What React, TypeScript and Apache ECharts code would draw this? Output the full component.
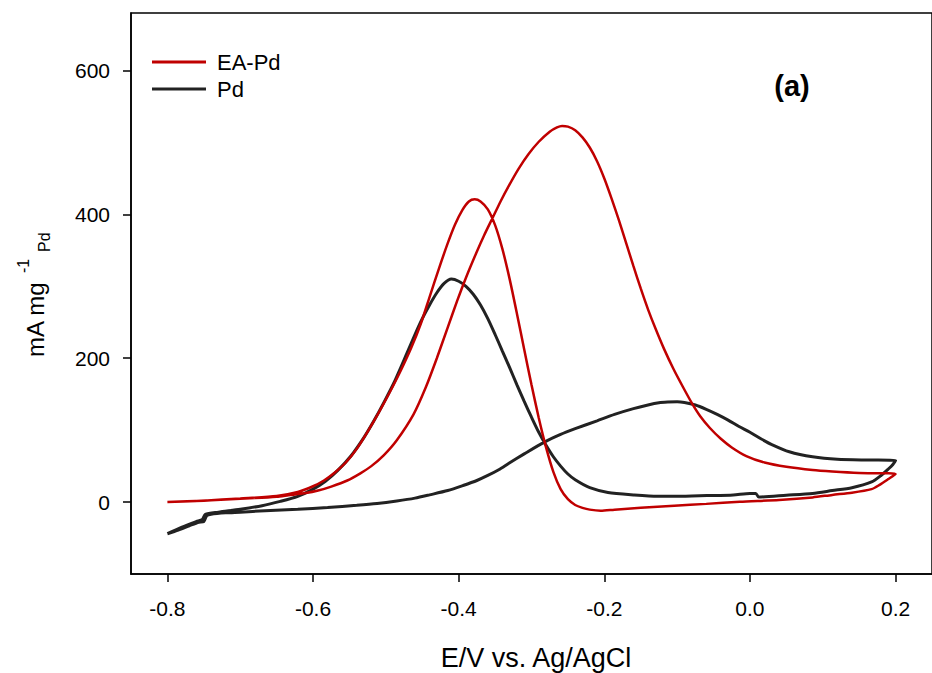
import React, { useEffect, useRef } from "react";
import * as echarts from "echarts";

// E (V vs. Ag/AgCl), current density (mA mg^-1 Pd)
const eaPdForward: [number, number][] = [
  [-0.8, 0], [-0.76, 1.5], [-0.72, 3.5], [-0.68, 5.5], [-0.65, 7.5], [-0.634, 9.5], [-0.61, 12.5],
  [-0.593, 16], [-0.575, 21.5], [-0.553, 30], [-0.535, 40], [-0.52, 50], [-0.503, 65], [-0.485, 86],
  [-0.462, 122], [-0.445, 160], [-0.43, 200], [-0.415, 243], [-0.402, 280], [-0.39, 312], [-0.376, 346],
  [-0.365, 371], [-0.353, 396], [-0.342, 419], [-0.331, 440], [-0.318, 463], [-0.304, 484], [-0.29, 501],
  [-0.275, 515], [-0.265, 521], [-0.258, 523], [-0.25, 522], [-0.24, 517], [-0.23, 507], [-0.22, 493],
  [-0.21, 474], [-0.2, 450], [-0.19, 422], [-0.18, 392], [-0.17, 360], [-0.16, 328], [-0.15, 297],
  [-0.14, 268], [-0.13, 242], [-0.118, 213], [-0.105, 185], [-0.092, 160], [-0.08, 138], [-0.068, 119],
  [-0.055, 103], [-0.04, 88], [-0.025, 76], [-0.005, 64], [0.02, 55], [0.05, 49], [0.086, 44.5],
  [0.113, 42.5], [0.15, 40.5], [0.2, 39],
];
const eaPdReverse: [number, number][] = [
  [0.2, 39], [0.19, 32], [0.178, 24], [0.167, 18], [0.14, 13], [0.113, 10], [0.086, 6.5], [0.04, 3],
  [-0.014, 0.5], [-0.06, -2.5], [-0.104, -5], [-0.15, -8], [-0.186, -10.5], [-0.205, -12], [-0.22, -10.5],
  [-0.23, -8], [-0.24, -4], [-0.25, 4], [-0.26, 18], [-0.27, 42], [-0.28, 76], [-0.29, 117],
  [-0.3, 163], [-0.31, 212], [-0.32, 262], [-0.33, 310], [-0.34, 352], [-0.35, 385], [-0.36, 407],
  [-0.37, 418], [-0.378, 421], [-0.386, 418], [-0.395, 406], [-0.405, 386], [-0.415, 360], [-0.427, 325],
  [-0.44, 285], [-0.452, 248], [-0.465, 215], [-0.48, 182], [-0.495, 152], [-0.51, 124], [-0.525, 98],
  [-0.54, 74], [-0.555, 55], [-0.57, 41], [-0.585, 30], [-0.6, 22], [-0.621, 14], [-0.65, 8.5],
  [-0.7, 5], [-0.75, 2], [-0.8, 0],
];
const pdForward: [number, number][] = [
  [-0.8, -44], [-0.785, -39], [-0.77, -33], [-0.757, -28], [-0.75, -27], [-0.746, -19], [-0.74, -17],
  [-0.72, -15], [-0.7, -14], [-0.666, -12], [-0.621, -10], [-0.58, -7.5], [-0.54, -4.5], [-0.512, -2],
  [-0.485, 1.5], [-0.46, 5.5], [-0.44, 10], [-0.415, 16], [-0.394, 23], [-0.375, 30], [-0.36, 37],
  [-0.345, 45], [-0.331, 54], [-0.31, 67], [-0.283, 83], [-0.26, 94], [-0.24, 102], [-0.21, 113],
  [-0.186, 122], [-0.16, 130], [-0.14, 135], [-0.125, 138], [-0.113, 139], [-0.1, 139.5], [-0.09, 138.5],
  [-0.075, 135], [-0.06, 129], [-0.045, 122], [-0.03, 114], [-0.015, 105], [0.0, 97], [0.015, 88],
  [0.03, 80], [0.054, 70], [0.086, 63], [0.12, 59.5], [0.16, 58.5], [0.2, 58],
];
const pdReverse: [number, number][] = [
  [0.2, 58], [0.196, 52], [0.19, 46], [0.18, 37], [0.167, 28], [0.14, 20], [0.113, 16], [0.086, 12],
  [0.05, 9.5], [0.012, 7], [0.008, 12], [0.0, 12], [-0.023, 10], [-0.059, 9], [-0.1, 8], [-0.127, 8],
  [-0.16, 10], [-0.195, 13.4], [-0.22, 20], [-0.24, 31], [-0.25, 39], [-0.26, 50], [-0.27, 63],
  [-0.28, 79], [-0.29, 97], [-0.3, 118], [-0.31, 140], [-0.32, 163], [-0.33, 187], [-0.34, 210],
  [-0.35, 233], [-0.36, 255], [-0.37, 274], [-0.38, 289], [-0.39, 300], [-0.4, 307], [-0.41, 310],
  [-0.42, 304], [-0.43, 291], [-0.44, 274], [-0.45, 255], [-0.46, 233], [-0.471, 207], [-0.487, 170],
  [-0.503, 138], [-0.517, 112], [-0.53, 90], [-0.548, 64], [-0.566, 44], [-0.583, 29], [-0.6, 18],
  [-0.621, 8], [-0.645, 1], [-0.67, -5], [-0.7, -10], [-0.73, -14], [-0.748, -17], [-0.752, -24],
  [-0.76, -27], [-0.78, -35], [-0.8, -44],
];

const xTicks = [-0.8, -0.6, -0.4, -0.2, 0.0, 0.2];
const yTicks = [0, 200, 400, 600];
const seriesNames = ["EA-Pd", "Pd"];
const xTitle = "E/V vs. Ag/AgCl";
const panelLabel = "(a)";

const FONT = "'Liberation Sans', Arial, Helvetica, sans-serif";

export default function App() {
  const ref = useRef<HTMLDivElement>(null);
  useEffect(() => {
    if (!ref.current) return;
    const chart = echarts.init(ref.current, null, { renderer: "svg" });
    chart.setOption({
      animation: false,
      backgroundColor: "#fff",
      grid: {
        left: 131, top: 13, width: 809.6, height: 561,
        show: true, borderColor: "#000", borderWidth: 1.5, backgroundColor: "transparent",
      },
      legend: {
        data: seriesNames,
        orient: "vertical",
        left: 147, top: 46,
        itemWidth: 54, itemHeight: 3, itemGap: 5,
        icon: "rect",
        textStyle: { fontFamily: FONT, fontSize: 22, color: "#000", padding: [0, 0, 0, 6], lineHeight: 22 },
      },
      xAxis: {
        type: "value", min: -0.85, max: 0.25,
        axisLine: { show: true, onZero: false, lineStyle: { color: "#000", width: 1.5 } },
        axisTick: { show: true, customValues: xTicks, length: 8, inside: false, lineStyle: { color: "#000", width: 1.5 } },
        axisLabel: {
          customValues: xTicks, margin: 24, fontFamily: FONT, fontSize: 21, color: "#000",
          formatter: (v: number) => v.toFixed(1),
        },
        splitLine: { show: false },
      },
      yAxis: {
        type: "value", min: -100, max: 680,
        axisLine: { show: true, onZero: false, lineStyle: { color: "#000", width: 1.5 } },
        axisTick: { show: true, customValues: yTicks, length: 8, inside: false, lineStyle: { color: "#000", width: 1.5 } },
        axisLabel: { customValues: yTicks, margin: 21, fontFamily: FONT, fontSize: 21, color: "#000" },
        splitLine: { show: false },
      },
      series: [
        {
          name: "Pd", type: "line", data: pdForward.concat(pdReverse), showSymbol: false, smooth: 0.25,
          lineStyle: { color: "#222222", width: 3 }, itemStyle: { color: "#222222" }, z: 2,
        },
        {
          name: "EA-Pd", type: "line", data: eaPdForward.concat(eaPdReverse), showSymbol: false, smooth: 0.25,
          lineStyle: { color: "#C00000", width: 2.5 }, itemStyle: { color: "#C00000" }, z: 3,
        },
      ],
      graphic: [
        {
          type: "text", x: 792, y: 86,
          style: { text: panelLabel, fontFamily: FONT, fontWeight: "bold", fontSize: 29, fill: "#000", align: "center", verticalAlign: "middle" },
        },
        {
          type: "text", x: 536, y: 658,
          style: { text: xTitle, fontFamily: FONT, fontSize: 27, fill: "#000", align: "center", verticalAlign: "middle" },
        },
        {
          type: "group", x: 35, y: 357, rotation: Math.PI / 2,
          children: [
            { type: "text", x: 0, y: 0, style: { text: "mA mg", fontFamily: FONT, fontSize: 24, fill: "#000", align: "left", verticalAlign: "middle" } },
            { type: "text", x: 84, y: -12, style: { text: "-1", fontFamily: FONT, fontSize: 16, fill: "#000", align: "left", verticalAlign: "middle" } },
            { type: "text", x: 105, y: 9, style: { text: "Pd", fontFamily: FONT, fontSize: 16, fill: "#000", align: "left", verticalAlign: "middle" } },
          ],
        },
      ],
    });
    return () => chart.dispose();
  }, []);
  return <div ref={ref} style={{ position: "fixed", left: 0, top: 0, width: 932, height: 673 }} />;
}
